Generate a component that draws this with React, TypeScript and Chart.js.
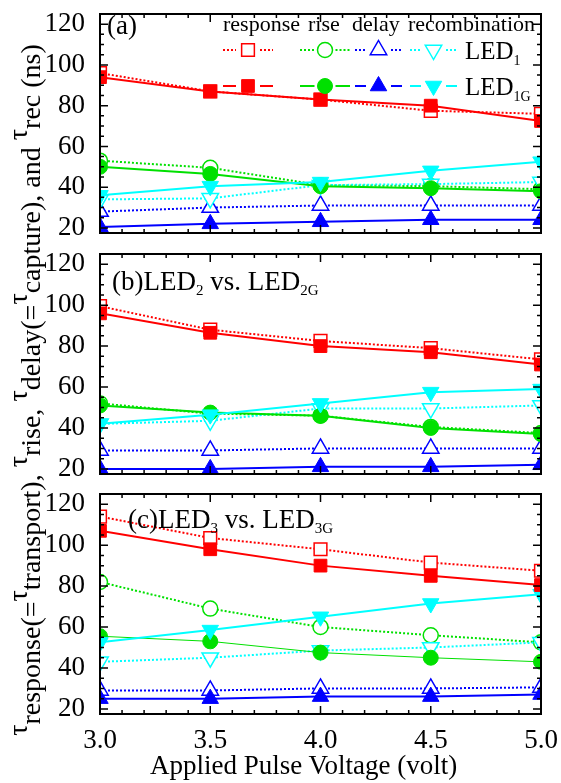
import React, { useEffect, useRef } from 'react';
import { Chart, registerables } from 'chart.js';

Chart.register(...registerables);

const FONT = "'Liberation Serif', 'Times New Roman', serif";

// ---------- data ----------
const voltages = [3.0, 3.5, 4.0, 4.5, 5.0];
const xTickValues = [3.0, 3.5, 4.0, 4.5, 5.0];
const yTickValues = [20, 40, 60, 80, 100, 120];

// Panel (a) LED1 (open, dotted) vs LED1G (filled, solid)
const led1Response = [96, 87, 83, 77.5, 76];
const led1GResponse = [94, 87, 83, 80, 72.5];
const led1Rise = [53, 49.5, 41, 40.5, 39];
const led1GRise = [50, 46.5, 40.5, 39.5, 38];
const led1Delay = [28, 30, 31, 31, 31];
const led1GDelay = [20.5, 22, 23, 24, 24];
const led1Rec = [34, 34.5, 41, 41.5, 42.5];
const led1GRec = [36, 40.5, 42.5, 48, 52.5];

// Panel (b) LED2 vs LED2G
const led2Response = [99.5, 88, 82.5, 79, 73.5];
const led2GResponse = [96, 86.5, 80, 77, 71];
const led2Rise = [52, 47, 46, 40.5, 37.5];
const led2GRise = [51, 47.5, 46, 40, 37];
const led2Delay = [29, 29, 30, 30, 30];
const led2GDelay = [20, 20, 21, 21, 22];
const led2Rec = [42, 43.5, 49.5, 49.5, 51];
const led2GRec = [42, 46.5, 52, 57.5, 59];

// Panel (c) LED3 vs LED3G
const led3Response = [114, 103.5, 98, 91.5, 87.5];
const led3GResponse = [107, 98, 90, 85, 80.5];
const led3Rise = [82, 69, 60, 56, 52.5];
const led3GRise = [55.5, 53, 47.5, 45, 43];
const led3Delay = [29, 29, 30, 30, 30.5];
const led3GDelay = [25, 25, 26, 26, 27];
const led3Rec = [43, 45, 48.5, 50, 52.5];
const led3GRec = [52.5, 58.5, 65, 71.5, 76];

// ---------- styles ----------
type Kind = 'response' | 'rise' | 'delay' | 'rec';
const STYLE: Record<Kind, { color: string; pointStyle: string; radius: number; rotation: number }> = {
  response: { color: '#ff0000', pointStyle: 'rect', radius: 9, rotation: 0 },
  rise: { color: '#00e000', pointStyle: 'circle', radius: 7.5, rotation: 0 },
  delay: { color: '#0000ff', pointStyle: 'triangle', radius: 9.5, rotation: 0 },
  rec: { color: '#00ffff', pointStyle: 'triangle', radius: 9.5, rotation: 180 },
};

function ds(values: number[], kind: Kind, filled: boolean, lineWidth = 2) {
  const s = STYLE[kind];
  return {
    data: voltages.map((v, i) => ({ x: v, y: values[i] })),
    borderColor: s.color,
    backgroundColor: s.color,
    borderWidth: lineWidth,
    borderDash: filled ? [] : [2, 2],
    pointStyle: s.pointStyle,
    pointRadius: s.radius,
    pointHoverRadius: s.radius,
    pointRotation: s.rotation,
    pointBackgroundColor: filled ? s.color : '#ffffff',
    pointBorderColor: s.color,
    pointBorderWidth: filled ? 1 : 1.5,
    tension: 0,
    clip: 0,
    fill: false,
  };
}

function panelDatasets(
  open: [number[], number[], number[], number[]],
  filled: [number[], number[], number[], number[]],
  thinRise = false
) {
  const [oR, oRi, oD, oRec] = open;
  const [fR, fRi, fD, fRec] = filled;
  // filled datasets first so they are drawn on top
  return [
    ds(fR, 'response', true),
    ds(fRec, 'rec', true),
    ds(fRi, 'rise', true, thinRise ? 1 : 2),
    ds(fD, 'delay', true),
    ds(oR, 'response', false),
    ds(oRec, 'rec', false),
    ds(oRi, 'rise', false),
    ds(oD, 'delay', false),
  ];
}

// ---------- drawing helpers ----------
function drawMarker(ctx: CanvasRenderingContext2D, kind: Kind, x: number, y: number, filled: boolean) {
  const s = STYLE[kind];
  const r = s.radius;
  ctx.save();
  ctx.beginPath();
  if (s.pointStyle === 'rect') {
    const h = Math.SQRT1_2 * r;
    ctx.rect(x - h, y - h, 2 * h, 2 * h);
  } else if (s.pointStyle === 'circle') {
    ctx.arc(x, y, r, 0, Math.PI * 2);
  } else if (s.rotation === 0) {
    ctx.moveTo(x, y - r);
    ctx.lineTo(x + 0.866 * r, y + 0.5 * r);
    ctx.lineTo(x - 0.866 * r, y + 0.5 * r);
    ctx.closePath();
  } else {
    ctx.moveTo(x, y + r);
    ctx.lineTo(x - 0.866 * r, y - 0.5 * r);
    ctx.lineTo(x + 0.866 * r, y - 0.5 * r);
    ctx.closePath();
  }
  ctx.fillStyle = filled ? s.color : '#ffffff';
  ctx.fill();
  ctx.strokeStyle = s.color;
  ctx.lineWidth = filled ? 1 : 1.5;
  ctx.stroke();
  ctx.restore();
}

const framePlugin = {
  id: 'frameTicks',
  afterDatasetsDraw(chart: any) {
    const { ctx, chartArea } = chart;
    const { left, right, top, bottom } = chartArea;
    const xs = chart.scales.x;
    const ys = chart.scales.y;
    ctx.save();
    ctx.strokeStyle = '#000';
    ctx.lineWidth = 1.5;
    ctx.beginPath();
    for (let v = 20; v <= 125; v += 5) {
      const py = ys.getPixelForValue(v);
      const len = v % 20 === 0 ? 8 : 4;
      ctx.moveTo(left, py); ctx.lineTo(left + len, py);
      ctx.moveTo(right, py); ctx.lineTo(right - len, py);
    }
    for (let i = 0; i <= 20; i++) {
      const px = xs.getPixelForValue(3 + i * 0.1);
      const len = i % 5 === 0 ? 8 : 4;
      ctx.moveTo(px, top); ctx.lineTo(px, top + len);
      ctx.moveTo(px, bottom); ctx.lineTo(px, bottom - len);
    }
    ctx.stroke();
    ctx.lineWidth = 2;
    ctx.strokeRect(left, top, right - left, bottom - top);
    ctx.restore();
  },
};

const legendPlugin = {
  id: 'customLegend',
  afterDraw(chart: any) {
    const ctx = chart.ctx as CanvasRenderingContext2D;
    const cols: { kind: Kind; x0: number; x1: number }[] = [
      { kind: 'response', x0: 223, x1: 273 },
      { kind: 'rise', x0: 300, x1: 350 },
      { kind: 'delay', x0: 355, x1: 402 },
      { kind: 'rec', x0: 410, x1: 457 },
    ];
    const rows = [
      { y: 50, filled: false },
      { y: 86, filled: true },
    ];
    for (const row of rows) {
      for (const c of cols) {
        const s = STYLE[c.kind];
        const xm = (c.x0 + c.x1) / 2;
        const gap = s.radius + 3;
        ctx.save();
        ctx.strokeStyle = s.color;
        ctx.lineWidth = 2;
        ctx.setLineDash(row.filled ? [] : [2, 2]);
        ctx.beginPath();
        ctx.moveTo(c.x0, row.y); ctx.lineTo(xm - gap, row.y);
        ctx.moveTo(xm + gap, row.y); ctx.lineTo(c.x1, row.y);
        ctx.stroke();
        ctx.restore();
        drawMarker(ctx, c.kind, xm, row.y, row.filled);
      }
    }
  },
};

function buildConfig(datasets: any[], showX: boolean, padTop: number, padBottom: number, xHeight: number, withLegend: boolean) {
  return {
    type: 'line' as const,
    data: { datasets },
    plugins: withLegend ? [framePlugin, legendPlugin] : [framePlugin],
    options: {
      animation: false,
      responsive: false,
      events: [],
      layout: { padding: { left: 0, right: 20, top: padTop, bottom: padBottom } },
      plugins: { legend: { display: false }, tooltip: { enabled: false } },
      scales: {
        x: {
          type: 'linear',
          min: 3,
          max: 5,
          display: showX,
          grid: { display: false },
          border: { display: false },
          afterBuildTicks: (scale: any) => {
            scale.ticks = xTickValues.map((v) => ({ value: v }));
          },
          afterFit: (scale: any) => {
            if (showX) scale.height = xHeight;
            scale.paddingLeft = 0;
            scale.paddingRight = 0;
            scale.paddingTop = 0;
            scale.paddingBottom = 0;
          },
          ticks: {
            color: '#000',
            padding: 3,
            maxRotation: 0,
            font: { family: FONT, size: 27 },
            callback: (v: any) => Number(v).toFixed(1),
          },
          title: { display: false },
        },
        y: {
          type: 'linear',
          min: 17.5,
          max: 125,
          grid: { display: false },
          border: { display: false },
          afterBuildTicks: (scale: any) => {
            scale.ticks = yTickValues.map((v) => ({ value: v }));
          },
          afterFit: (scale: any) => {
            scale.width = 100;
            scale.paddingTop = 0;
            scale.paddingBottom = 0;
            scale.paddingLeft = 0;
            scale.paddingRight = 0;
          },
          ticks: {
            color: '#000',
            padding: 7,
            font: { family: FONT, size: 27 },
          },
        },
      },
    },
  };
}

function Panel({ top, height, config }: { top: number; height: number; config: any }) {
  const ref = useRef<HTMLCanvasElement | null>(null);
  useEffect(() => {
    if (!ref.current) return;
    const chart = new Chart(ref.current, config);
    return () => chart.destroy();
  }, [config]);
  return (
    <canvas
      ref={ref}
      width={561}
      height={height}
      style={{ position: 'absolute', left: 0, top, width: 561, height }}
    />
  );
}

function Txt({ left, baseline, size, children }: { left: number; baseline: number; size: number; children: any }) {
  return (
    <div
      style={{
        position: 'absolute',
        left,
        top: baseline - 0.8375 * size,
        fontFamily: FONT,
        fontSize: size,
        lineHeight: `${size}px`,
        whiteSpace: 'nowrap',
        color: '#000',
      }}
    >
      {children}
    </div>
  );
}

const Sub = ({ children, size = 15, drop = 5 }: { children: any; size?: number; drop?: number }) => (
  <span style={{ fontSize: size, position: 'relative', top: drop, lineHeight: 0 }}>{children}</span>
);

const Tau = () => <span style={{ position: 'relative', top: '-0.45em' }}>τ</span>;

const configA = buildConfig(
  panelDatasets([led1Response, led1Rise, led1Delay, led1Rec], [led1GResponse, led1GRise, led1GDelay, led1GRec]),
  false, 14, 12, 0, true
);
const configB = buildConfig(
  panelDatasets([led2Response, led2Rise, led2Delay, led2Rec], [led2GResponse, led2GRise, led2GDelay, led2GRec]),
  false, 14, 10, 0, false
);
const configC = buildConfig(
  panelDatasets([led3Response, led3Rise, led3Delay, led3Rec], [led3GResponse, led3GRise, led3GDelay, led3GRec], true),
  true, 14, 0, 69, false
);

export default function App() {
  useEffect(() => {
    document.body.style.margin = '0';
  }, []);
  return (
    <div style={{ position: 'relative', width: 561, height: 783, background: '#fff', overflow: 'hidden' }}>
      <Panel top={0} height={245} config={configA} />
      <Panel top={240} height={245} config={configB} />
      <Panel top={480} height={303} config={configC} />

      {/* panel labels */}
      <Txt left={107} baseline={35} size={27}>(a)</Txt>
      <Txt left={112} baseline={291} size={27}>
        (b)LED<Sub>2</Sub> vs. LED<Sub>2G</Sub>
      </Txt>
      <Txt left={128} baseline={529} size={27}>
        (c)LED<Sub>3</Sub> vs. LED<Sub>3G</Sub>
      </Txt>

      {/* legend texts */}
      <Txt left={223} baseline={31} size={22}>response</Txt>
      <Txt left={308} baseline={31} size={22}>rise</Txt>
      <Txt left={352} baseline={31} size={22}>delay</Txt>
      <Txt left={408} baseline={31} size={22}>recombination</Txt>
      <Txt left={465} baseline={59} size={25}>
        LED<Sub size={14} drop={6}>1</Sub>
      </Txt>
      <Txt left={465} baseline={95} size={25}>
        LED<Sub size={14} drop={6}>1G</Sub>
      </Txt>

      {/* x axis title */}
      <Txt left={150} baseline={775} size={27}>Applied Pulse Voltage (volt)</Txt>

      {/* y axis title */}
      <div
        style={{
          position: 'absolute',
          left: 31 - 400,
          top: 390 - 20,
          width: 800,
          height: 40,
          lineHeight: '40px',
          textAlign: 'center',
          transform: 'rotate(-90deg)',
          fontFamily: FONT,
          fontSize: 28,
          whiteSpace: 'nowrap',
          color: '#000',
        }}
      >
        <Tau />response(=<Tau />transport), <Tau />rise, <Tau />delay(=<Tau />capture), and <Tau />rec (ns)
      </div>
    </div>
  );
}
